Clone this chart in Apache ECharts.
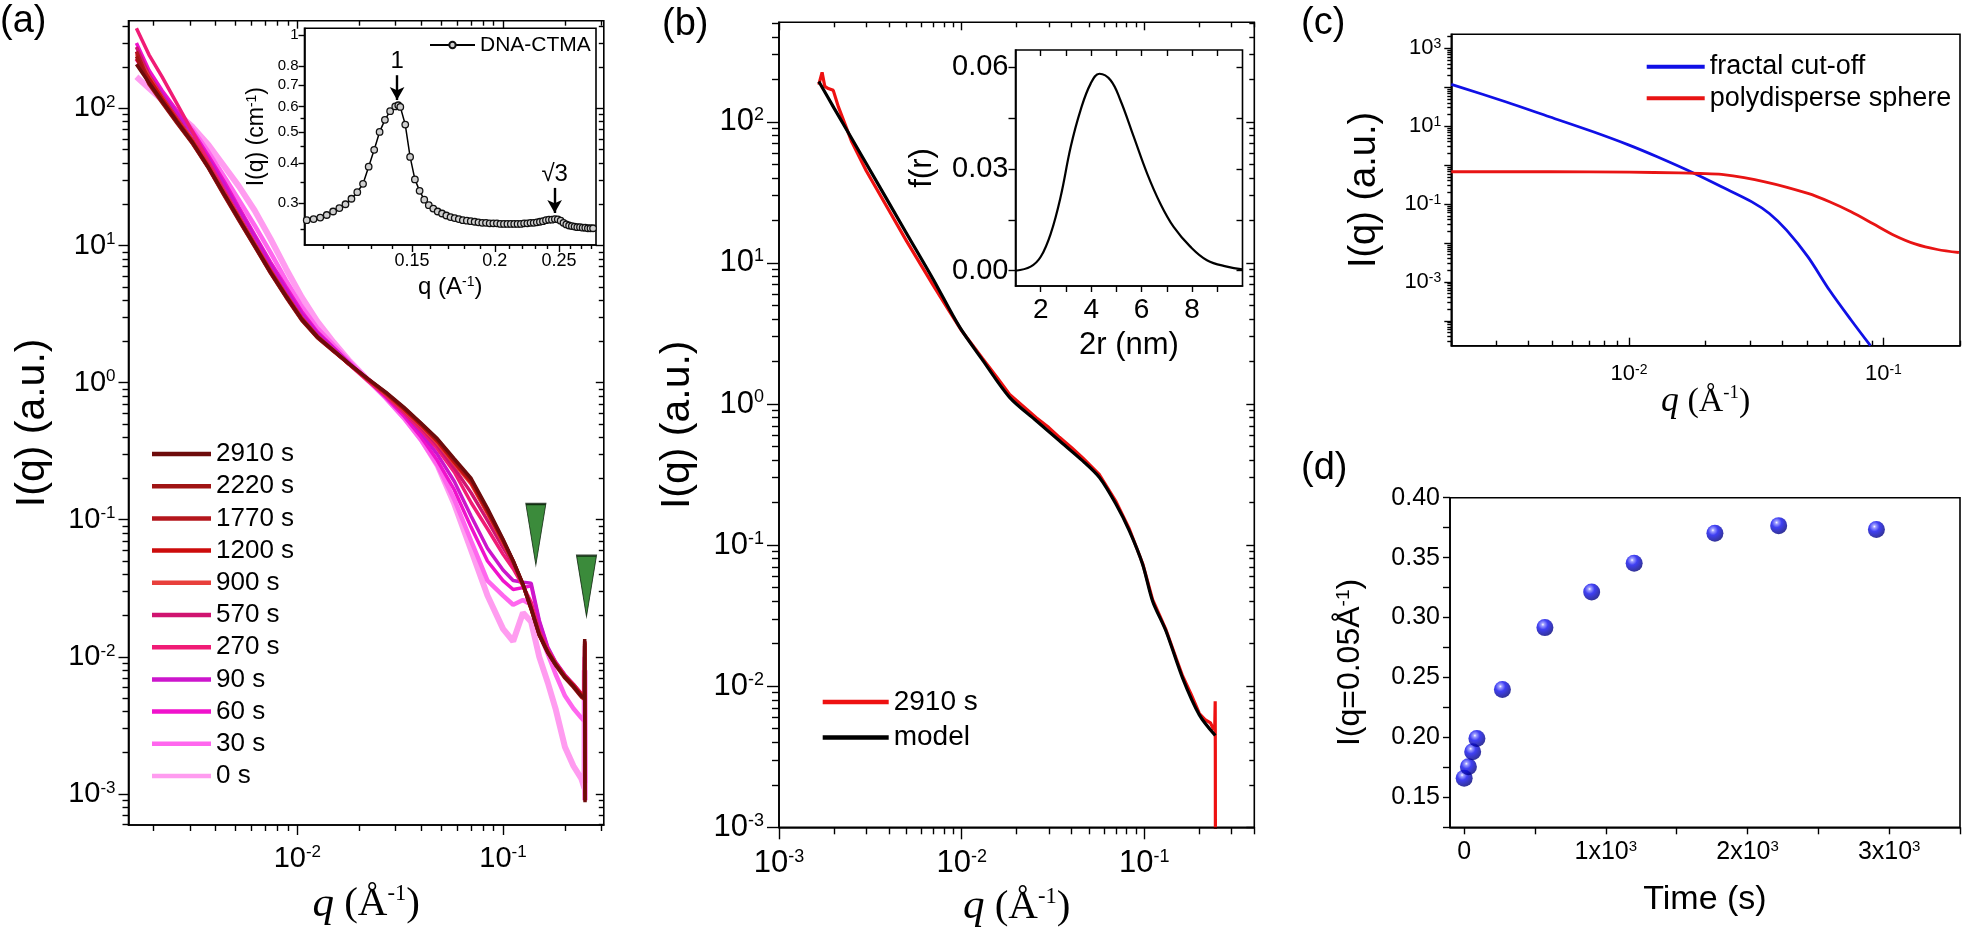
<!DOCTYPE html>
<html>
<head>
<meta charset="utf-8">
<script src="https://cdn.jsdelivr.net/npm/echarts@6.0.0/dist/echarts.min.js"></script>
<style>
html,body{margin:0;padding:0;background:#fff;}
#chart{width:1968px;height:932px;}
</style>
</head>
<body>
<div id="chart"></div>
<script>
// ===================== DATA =====================
// Panel (a): SAXS curves at different times
const qA = [0.00165,0.0019,0.0022,0.0026,0.0031,0.0037,0.0044,0.0052,0.0062,0.0074,0.0088,0.0105,0.0125,0.015,0.018,0.022,0.027,0.033,0.04,0.048,0.058,0.07,0.084,0.1,0.112,0.125,0.137,0.15,0.165,0.18,0.2,0.22,0.24,0.249,0.2495,0.2505];
const I_2910s = [210,154,113,80,56,37,23.8,15.6,10.0,6.4,4.28,2.9,2.16,1.71,1.36,1.07,0.85,0.66,0.506,0.389,0.278,0.2,0.121,0.072,0.0502,0.034,0.0225,0.0145,0.0108,0.0088,0.0071,0.0061,0.0052,0.005,0.0135,0.00087];
const I_2220s = [240,150,110,78,55,36.5,23.2,15.2,9.8,6.3,4.2,2.85,2.13,1.69,1.35,1.06,0.84,0.65,0.5,0.382,0.272,0.195,0.118,0.071,0.0498,0.0335,0.0222,0.0143,0.0107,0.0087,0.007,0.006,0.0051,0.0049,0.013,0.0009];
const I_1770s = [260,158,112,79,55.5,36.8,23.5,15.4,9.9,6.35,4.25,2.88,2.14,1.7,1.35,1.06,0.84,0.65,0.498,0.38,0.27,0.193,0.117,0.071,0.05,0.0338,0.0224,0.0145,0.0108,0.0088,0.0071,0.0061,0.0052,0.005,0.0128,0.0009];
const I_1200s = [230,165,118,82,57,37.5,24,15.8,10.1,6.5,4.33,2.93,2.17,1.71,1.35,1.06,0.83,0.64,0.49,0.372,0.262,0.187,0.114,0.07,0.0495,0.0336,0.0226,0.0146,0.0109,0.0089,0.0072,0.0062,0.0053,0.0051,0.0125,0.001];
const I_900s = [250,170,120,83,58,38,24.3,16,10.2,6.55,4.35,2.94,2.17,1.71,1.35,1.05,0.82,0.63,0.48,0.362,0.255,0.182,0.111,0.068,0.049,0.0334,0.0228,0.0147,0.011,0.0089,0.0072,0.0062,0.0053,0.0051,0.012,0.001];
const I_570s = [280,175,122,85,59,38.5,24.6,16.2,10.3,6.6,4.4,2.97,2.19,1.72,1.35,1.05,0.82,0.62,0.47,0.35,0.238,0.157,0.099,0.063,0.0477,0.0335,0.0232,0.0149,0.0111,0.009,0.0073,0.0063,0.0054,0.0052,0.0125,0.0011];
const I_270s = [384,246,170,108,67,41,25.5,16.4,10.4,6.6,4.4,2.97,2.19,1.72,1.34,1.03,0.8,0.6,0.45,0.33,0.222,0.133,0.086,0.056,0.044,0.033,0.025,0.0155,0.0113,0.0091,0.0073,0.0063,0.0054,0.0052,0.013,0.0011];
const I_90s = [260,175,128,92,65,43,28,18.2,11.6,7.3,4.8,3.18,2.3,1.78,1.38,1.05,0.8,0.6,0.43,0.3,0.19,0.106,0.062,0.043,0.036,0.035,0.0345,0.0185,0.0118,0.0092,0.0074,0.0063,0.0054,0.0052,0.012,0.0012];
const I_60s = [300,190,135,96,68,45,29.5,19,12,7.6,5,3.3,2.35,1.8,1.38,1.04,0.78,0.57,0.4,0.27,0.165,0.088,0.05,0.036,0.031,0.032,0.033,0.018,0.0116,0.0091,0.0073,0.0062,0.0053,0.0051,0.012,0.0012];
const I_30s = [230,165,125,95,70,48,32,21.5,14,8.9,5.6,3.6,2.5,1.88,1.42,1.05,0.77,0.55,0.38,0.25,0.14,0.07,0.036,0.028,0.024,0.026,0.024,0.015,0.0105,0.0075,0.0052,0.0042,0.0036,0.0034,0.01,0.0012];
const I_0s = [170,140,115,92,73,54,38,27,18,11.2,6.8,4.2,2.8,1.97,1.43,1.05,0.78,0.56,0.39,0.25,0.13,0.06,0.028,0.016,0.013,0.021,0.018,0.01,0.0065,0.0042,0.0022,0.0016,0.0013,0.0011,0.008,0.0009];
const aNames = ['2910 s','2220 s','1770 s','1200 s','900 s','570 s','270 s','90 s','60 s','30 s','0 s'];
// green triangle markers (Bragg peak positions)
const triQ = [0.1444, 0.2546];
const triI = [0.078, 0.0328];

// Inset (a): DNA-CTMA
const qIns = [0.104,0.1065,0.109,0.1115,0.114,0.1165,0.119,0.1215,0.124,0.1265,0.129,0.1315,0.134,0.1365,0.139,0.1415,0.143,0.144,0.1465,0.149,0.1515,0.154,0.1565,0.159,0.1615,0.164,0.1665,0.169,0.1715,0.174,0.1765,0.179,0.1815,0.184,0.1865,0.189,0.1915,0.194,0.1965,0.199,0.2015,0.204,0.2065,0.209,0.2115,0.214,0.2165,0.219,0.2215,0.224,0.2265,0.229,0.2315,0.234,0.2365,0.239,0.2415,0.244,0.2465,0.249,0.2515,0.254,0.2565,0.259,0.2615,0.264,0.2665,0.269,0.2715,0.274,0.2765,0.279,0.2815];
const IIns = [0.266,0.268,0.271,0.276,0.283,0.29,0.298,0.31,0.325,0.345,0.39,0.44,0.5,0.545,0.58,0.6,0.605,0.598,0.527,0.418,0.356,0.328,0.308,0.296,0.289,0.283,0.279,0.275,0.272,0.27,0.268,0.266,0.265,0.264,0.263,0.262,0.261,0.261,0.26,0.26,0.26,0.259,0.259,0.259,0.259,0.259,0.259,0.259,0.26,0.26,0.261,0.261,0.262,0.263,0.264,0.266,0.267,0.267,0.268,0.2675,0.265,0.261,0.258,0.256,0.255,0.254,0.253,0.253,0.252,0.252,0.251,0.251,0.251];
const arrowText = ['1', '√3'];
const arrowQ = [0.1424, 0.2463];
const arrowFrom = [0.75, 0.335];
const arrowTo = [0.628, 0.28];

// Panel (b): 2910 s data and model
const qRed = [0.00165,0.00172,0.00178,0.00186,0.00198,0.00211,0.0025,0.003,0.004,0.005,0.006,0.007,0.0085,0.01,0.0115,0.013,0.0155,0.0183,0.022,0.0256,0.03,0.0343,0.04,0.046,0.0568,0.07,0.0828,0.0979,0.111,0.1315,0.15,0.162,0.18,0.2,0.215,0.23,0.24,0.243,0.2443,0.2447,0.245];
const IRed = [183,224,178,172,167,128,72,45,23.5,14.2,9.6,6.9,4.6,3.3,2.6,2.1,1.56,1.17,0.95,0.8,0.68,0.58,0.49,0.415,0.315,0.203,0.13,0.074,0.041,0.025,0.0155,0.0118,0.0088,0.0064,0.0058,0.0055,0.0049,0.0052,0.0078,0.0035,0.0006];
const qModel = [0.00165,0.002,0.003,0.005,0.007,0.00975,0.01307,0.01829,0.0256,0.0343,0.046,0.0568,0.070,0.0828,0.0979,0.111,0.1315,0.162,0.2,0.2445];
const IModel = [193,125,50.6,16.1,7.6,3.5,2.03,1.114,0.761,0.548,0.395,0.301,0.1945,0.126,0.0729,0.04,0.0245,0.0114,0.00626,0.00447];

// Inset (b): size distribution
const dB = [1.0,1.6,2.0,2.4,2.79,3.19,3.58,3.98,4.33,4.77,5.16,5.69,6.22,6.74,7.27,7.93,8.59,9.38,10];
const fB = [0.0,0.0012,0.0041,0.011,0.0218,0.0365,0.0473,0.0551,0.058,0.0561,0.0502,0.0394,0.0286,0.0198,0.0129,0.0071,0.0031,0.0012,0.0004];

// Panel (c): model components
const qFrac = [0.002,0.00329,0.00486,0.00718,0.01,0.0129,0.018,0.0231,0.0304,0.0356,0.0416,0.0505,0.0614,0.0746,0.0889];
const IFrac = [119,42,17.5,7.3,3.27,1.64,0.62,0.278,0.114,0.0573,0.0214,0.0044,0.00061,0.000105,0.000023];
const qSph = [0.002,0.00486,0.01,0.0157,0.019,0.0231,0.0342,0.0505,0.0614,0.0746,0.0907,0.110,0.134,0.163,0.198];
const ISph = [0.676,0.676,0.66,0.63,0.61,0.577,0.373,0.1875,0.1143,0.0632,0.0317,0.0159,0.00933,0.00681,0.0057];

// Panel (d): intensity at q = 0.05 vs time
const times = [0,30,60,90,270,570,900,1200,1770,2220,2910];
const Iq05 = [0.166,0.1755,0.188,0.199,0.240,0.2916,0.3213,0.3454,0.3703,0.3767,0.3734];

// Tick values / labels
const aXMajor = [0.01, 0.1];
const aYMajor = [0.001, 0.01, 0.1, 1, 10, 100];
const insAXLabels = [0.15, 0.2, 0.25];
const insAXMinor = [0.11,0.12,0.13,0.14,0.16,0.17,0.18,0.19,0.21,0.22,0.23,0.24,0.26,0.27,0.28];
const insAYLabels = [0.3,0.4,0.5,0.6,0.7,0.8,0.9,1];
const insAYMinor = [0.25,0.35,0.45,0.55];
const bXMajor = [0.001, 0.01, 0.1];
const bYMajor = [0.001, 0.01, 0.1, 1, 10, 100];
const insBXTicks = [2,3,4,5,6,7,8,9];
const insBXLabels = [2,4,6,8];
const insBYTicks = [0,0.015,0.03,0.045,0.06];
const insBYLabels = [0,0.03,0.06];
const cXMajor = [0.01, 0.1];
const cYMajor = [0.0001,0.001,0.01,0.1,1,10,100,1000];
const cYLabels = [0.001,0.1,10,1000];
const dXTicks = [0,500,1000,1500,2000,2500,3000,3500];
const dXLabels = [0,1000,2000,3000];
const dYTicks = [0.125,0.15,0.175,0.2,0.225,0.25,0.275,0.3,0.325,0.35,0.375,0.4];
const dYLabels = [0.15,0.2,0.25,0.3,0.35,0.4];

// ===================== STYLE / HELPERS =====================
const FONT = "'Liberation Sans', Arial, Helvetica, sans-serif";
const SERIF = "'Liberation Serif', 'Times New Roman', serif";
const K = '#000';
const aColors = ['#6e0b0b','#a01414','#b4161c','#cc0c0c','#e8403c','#d01470','#f01c76','#cc16cc','#f012cc','#ff66ee','#ff9cf0'];
const aWidths = [3.5,3.5,3.5,3.5,3.5,3.5,3.5,3.5,3.5,4.5,6];
const aValues = [I_2910s,I_2220s,I_1770s,I_1200s,I_900s,I_570s,I_270s,I_90s,I_60s,I_30s,I_0s];

const pts = (xs, ys) => xs.map((x, i) => [x, ys[i]]);
function minorLog(lo, hi) {
  const out = [];
  for (let e = -6; e <= 4; e++) for (let m = 2; m <= 9; m++) {
    const v = Number(m + 'e' + e);
    if (v >= lo && v <= hi) out.push(v);
  }
  return out;
}
const pow10 = v => '10{s|' + Math.round(Math.log10(v)) + '}';
const supRich = fs => ({ s: { fontSize: fs, verticalAlign: 'top', fontFamily: FONT, color: K } });
const qTitle = (fs) => ({
  name: '{i|q} {n|(Å}{s|-1}{n|)}',
  ns: { fontFamily: SERIF, fontSize: fs, color: K, rich: {
    i: { fontFamily: SERIF, fontStyle: 'italic', fontSize: fs * 1.05, color: K },
    n: { fontFamily: SERIF, fontSize: fs, color: K },
    s: { fontFamily: SERIF, fontSize: fs * 0.55, verticalAlign: 'top', color: K } } }
});

function mkAxis(o) {
  const a = {
    type: o.type || 'log', gridIndex: o.grid, min: o.min, max: o.max, position: o.pos,
    axisLine: { show: !!o.line, onZero: false, lineStyle: { color: K, width: 1.6 } },
    axisTick: { show: true, inside: !!o.inside, length: o.len, customValues: o.ticks, lineStyle: { color: K, width: 1.4 } },
    axisLabel: { show: false },
    splitLine: { show: false }, minorTick: { show: false }, minorSplitLine: { show: false },
    axisPointer: { show: false }, silent: true, z: 3
  };
  if (a.type === 'log') a.logBase = 10;
  if (o.labels) a.axisLabel = { show: true, customValues: o.labels, formatter: o.fmt, color: K, fontSize: o.fs,
    fontFamily: FONT, margin: o.margin, rich: o.rich || {}, hideOverlap: false, showMinLabel: true, showMaxLabel: true };
  if (o.name) Object.assign(a, { name: o.name, nameLocation: 'middle', nameGap: o.gap, nameMoveOverlap: false, nameTextStyle: o.ns });
  return a;
}

// ===================== GRIDS =====================
const gridBase = { show: true, borderColor: K, borderWidth: 1.6, backgroundColor: 'transparent', containLabel: false, outerBoundsMode: 'none' };
const grids = [
  Object.assign({}, gridBase, { left: 128.5, top: 20.7, width: 475.3, height: 804.3 }),   // 0 (a)
  Object.assign({}, gridBase, { left: 304.5, top: 28.3, width: 291.5, height: 216.7, backgroundColor: '#fff' }), // 1 inset a
  Object.assign({}, gridBase, { left: 779, top: 22.3, width: 475.3, height: 805 }),       // 2 (b)
  Object.assign({}, gridBase, { left: 1015.5, top: 50, width: 227, height: 236, backgroundColor: '#fff' }), // 3 inset b
  Object.assign({}, gridBase, { left: 1451.3, top: 34.3, width: 508.7, height: 311.4 }),  // 4 (c)
  Object.assign({}, gridBase, { left: 1450, top: 497.7, width: 510, height: 329.6 })      // 5 (d)
];

// ranges
const aX = [0.00151, 0.309], aY = [0.000594, 436];
const iaX = [0.1032, 0.2844], iaY = [0.2227, 1.049];
const bX = [0.000999, 0.4], bY = [0.000999, 507];
const ibX = [1, 10], ibY = [-0.0045, 0.065];
const cX = [0.002, 0.2], cY = [0.000023, 2300];
const dX = [-100, 3500], dY = [0.125, 0.40];

const xAxes = [], yAxes = [];
const addX = o => (xAxes.push(mkAxis(o)), xAxes.length - 1);
const addY = o => (yAxes.push(mkAxis(o)), yAxes.length - 1);

// (a)
const axA = addX(Object.assign({ grid: 0, min: aX[0], max: aX[1], pos: 'bottom', line: true, len: 10, ticks: aXMajor,
  labels: aXMajor, fmt: pow10, fs: 29, margin: 19, rich: supRich(17), gap: 58 }, qTitle(41)));
addX({ grid: 0, min: aX[0], max: aX[1], pos: 'bottom', len: 6, ticks: minorLog(aX[0], aX[1]) });
addX({ grid: 0, min: aX[0], max: aX[1], pos: 'top', inside: true, len: 8, ticks: aXMajor });
addX({ grid: 0, min: aX[0], max: aX[1], pos: 'top', inside: true, len: 5, ticks: minorLog(aX[0], aX[1]) });
const ayA = addY({ grid: 0, min: aY[0], max: aY[1], pos: 'left', line: true, len: 10, ticks: aYMajor,
  labels: aYMajor, fmt: pow10, fs: 29, margin: 13, rich: supRich(17),
  name: 'I(q) (a.u.)', gap: 75, ns: { fontSize: 41, fontFamily: FONT, color: K } });
addY({ grid: 0, min: aY[0], max: aY[1], pos: 'left', len: 6, ticks: minorLog(aY[0], aY[1]) });
addY({ grid: 0, min: aY[0], max: aY[1], pos: 'right', inside: true, len: 8, ticks: aYMajor });
addY({ grid: 0, min: aY[0], max: aY[1], pos: 'right', inside: true, len: 5, ticks: minorLog(aY[0], aY[1]) });

// inset (a)
const axIA = addX({ grid: 1, min: iaX[0], max: iaX[1], pos: 'bottom', line: true, len: 7, ticks: insAXLabels,
  labels: insAXLabels, fmt: v => String(v), fs: 18, margin: 7,
  name: 'q (A{s|-1})', gap: 30, ns: { fontSize: 24, fontFamily: FONT, color: K, rich: supRich(14) } });
addX({ grid: 1, min: iaX[0], max: iaX[1], pos: 'bottom', len: 4, ticks: insAXMinor });
const ayIA = addY({ grid: 1, min: iaY[0], max: iaY[1], pos: 'left', line: true, len: 6, ticks: insAYLabels,
  labels: insAYLabels, fmt: v => String(v), fs: 15, margin: 6,
  name: 'I(q) (cm{s|-1})', gap: 36, ns: { fontSize: 23, fontFamily: FONT, color: K, rich: supRich(14) } });
addY({ grid: 1, min: iaY[0], max: iaY[1], pos: 'left', len: 4, ticks: insAYMinor });

// (b)
const axB = addX(Object.assign({ grid: 2, min: bX[0], max: bX[1], pos: 'bottom', line: true, len: 12, ticks: bXMajor,
  labels: bXMajor, fmt: pow10, fs: 31, margin: 21, rich: supRich(18), gap: 58 }, qTitle(41)));
addX({ grid: 2, min: bX[0], max: bX[1], pos: 'bottom', len: 7, ticks: minorLog(bX[0], bX[1]) });
addX({ grid: 2, min: bX[0], max: bX[1], pos: 'top', inside: true, len: 8, ticks: bXMajor });
addX({ grid: 2, min: bX[0], max: bX[1], pos: 'top', inside: true, len: 5, ticks: minorLog(bX[0], bX[1]) });
const ayB = addY({ grid: 2, min: bY[0], max: bY[1], pos: 'left', line: true, len: 12, ticks: bYMajor,
  labels: bYMajor, fmt: pow10, fs: 31, margin: 15, rich: supRich(18),
  name: 'I(q) (a.u.)', gap: 81, ns: { fontSize: 41, fontFamily: FONT, color: K } });
addY({ grid: 2, min: bY[0], max: bY[1], pos: 'left', len: 7, ticks: minorLog(bY[0], bY[1]) });
addY({ grid: 2, min: bY[0], max: bY[1], pos: 'right', inside: true, len: 8, ticks: bYMajor });
addY({ grid: 2, min: bY[0], max: bY[1], pos: 'right', inside: true, len: 5, ticks: minorLog(bY[0], bY[1]) });

// inset (b)
const axIB = addX({ type: 'value', grid: 3, min: ibX[0], max: ibX[1], pos: 'bottom', line: true, len: 6, ticks: insBXTicks,
  labels: insBXLabels, fmt: v => String(v), fs: 28, margin: 10,
  name: '2r (nm)', gap: 44, ns: { fontSize: 31, fontFamily: FONT, color: K } });
addX({ type: 'value', grid: 3, min: ibX[0], max: ibX[1], pos: 'top', inside: true, len: 6, ticks: insBXTicks });
const ayIB = addY({ type: 'value', grid: 3, min: ibY[0], max: ibY[1], pos: 'left', line: true, len: 7, ticks: insBYTicks,
  labels: insBYLabels, fmt: v => v.toFixed(2), fs: 29, margin: 7,
  name: 'f(r)', gap: 78, ns: { fontSize: 31, fontFamily: FONT, color: K } });
addY({ type: 'value', grid: 3, min: ibY[0], max: ibY[1], pos: 'right', inside: true, len: 6, ticks: insBYTicks });

// (c)
const axC = addX(Object.assign({ grid: 4, min: cX[0], max: cX[1], pos: 'bottom', line: true, inside: true, len: 8, ticks: cXMajor,
  labels: cXMajor, fmt: pow10, fs: 22, margin: 17, rich: supRich(14), gap: 38 }, qTitle(34)));
addX({ grid: 4, min: cX[0], max: cX[1], pos: 'bottom', inside: true, len: 5, ticks: minorLog(cX[0], cX[1]) });
const ayC = addY({ grid: 4, min: cY[0], max: cY[1], pos: 'left', line: true, len: 7, ticks: cYMajor,
  labels: cYLabels, fmt: pow10, fs: 22, margin: 10, rich: supRich(14),
  name: 'I(q) (a.u.)', gap: 68, ns: { fontSize: 38, fontFamily: FONT, color: K } });
addY({ grid: 4, min: cY[0], max: cY[1], pos: 'left', len: 4, ticks: minorLog(cY[0], cY[1]) });

// (d)
const axD = addX({ type: 'value', grid: 5, min: dX[0], max: dX[1], pos: 'bottom', line: true, len: 7, ticks: dXTicks,
  labels: dXLabels, fmt: v => (v === 0 ? '0' : (v / 1000) + 'x10{s|3}'), fs: 25, margin: 12, rich: supRich(15),
  name: 'Time (s)', gap: 55, ns: { fontSize: 34, fontFamily: FONT, color: K } });
const ayD = addY({ type: 'value', grid: 5, min: dY[0], max: dY[1], pos: 'left', line: true, len: 7, ticks: dYTicks,
  labels: dYLabels, fmt: v => v.toFixed(2), fs: 25, margin: 10,
  name: 'I(q=0.05Å{s|-1})', gap: 84, ns: { fontSize: 32, fontFamily: FONT, color: K, rich: supRich(19) } });

// ===================== SERIES =====================
const series = [];
for (let i = aNames.length - 1; i >= 0; i--) {
  series.push({ type: 'line', name: aNames[i], xAxisIndex: axA, yAxisIndex: ayA, data: pts(qA, aValues[i]),
    symbol: 'none', lineStyle: { color: aColors[i], width: aWidths[i] }, itemStyle: { color: aColors[i] },
    silent: true, z: 2 });
}
series.push({ type: 'scatter', name: 'peaks', xAxisIndex: axA, yAxisIndex: ayA, data: pts(triQ, triI),
  symbol: 'triangle', symbolRotate: 180, symbolSize: [20, 61],
  itemStyle: { color: '#0a6e0a', borderColor: '#061a06', borderWidth: 1.4 }, silent: true, z: 4 });

series.push({ type: 'line', name: 'DNA-CTMA', xAxisIndex: axIA, yAxisIndex: ayIA, data: pts(qIns, IIns),
  symbol: 'circle', symbolSize: 6.5, showSymbol: true, lineStyle: { color: K, width: 1.5 },
  itemStyle: { color: '#cfcfcf', borderColor: '#111', borderWidth: 1.3 }, silent: true, z: 5,
  markLine: { silent: true, symbol: ['none', 'arrow'], symbolSize: [11, 13], animation: false,
    lineStyle: { color: K, width: 2.4, type: 'solid' },
    label: { show: true, position: 'start', formatter: '{b}', fontSize: 24, color: K, fontFamily: FONT, distance: 2 },
    data: arrowQ.map((q, i) => [{ name: arrowText[i], coord: [q, arrowFrom[i]] }, { coord: [q, arrowTo[i]] }]) } });

series.push({ type: 'line', name: '2910 s ', xAxisIndex: axB, yAxisIndex: ayB, data: pts(qRed, IRed),
  symbol: 'none', lineStyle: { color: '#ee1111', width: 3.2 }, itemStyle: { color: '#ee1111' }, silent: true, z: 2 });
series.push({ type: 'line', name: 'model', xAxisIndex: axB, yAxisIndex: ayB, data: pts(qModel, IModel),
  symbol: 'none', smooth: 0.3, lineStyle: { color: K, width: 3.2 }, itemStyle: { color: K }, silent: true, z: 3 });

series.push({ type: 'line', name: 'f(r)', xAxisIndex: axIB, yAxisIndex: ayIB, data: pts(dB, fB),
  symbol: 'none', smooth: 0.4, lineStyle: { color: K, width: 2.2 }, itemStyle: { color: K }, silent: true, z: 5 });

series.push({ type: 'line', name: 'fractal cut-off', xAxisIndex: axC, yAxisIndex: ayC, data: pts(qFrac, IFrac),
  symbol: 'none', smooth: 0.3, lineStyle: { color: '#1010e6', width: 2.8 }, itemStyle: { color: '#1010e6' }, silent: true });
series.push({ type: 'line', name: 'polydisperse sphere', xAxisIndex: axC, yAxisIndex: ayC, data: pts(qSph, ISph),
  symbol: 'none', smooth: 0.3, lineStyle: { color: '#e81414', width: 2.8 }, itemStyle: { color: '#e81414' }, silent: true });

series.push({ type: 'scatter', name: 'I(q=0.05)', xAxisIndex: axD, yAxisIndex: ayD, data: pts(times, Iq05),
  symbol: 'circle', symbolSize: 17, silent: true,
  itemStyle: { color: { type: 'radial', x: 0.38, y: 0.32, r: 0.7, colorStops: [
    { offset: 0, color: '#ffffff' }, { offset: 0.13, color: '#8888ff' }, { offset: 0.42, color: '#1010f0' }, { offset: 1, color: '#00007a' } ] } } });

// ===================== LEGENDS =====================
const legText = fs => ({ fontSize: fs, lineHeight: fs, color: K, fontFamily: FONT });
const legends = [
  { data: aNames, orient: 'vertical', left: 152, top: 441, padding: 0, itemWidth: 59, itemHeight: 4.5, itemGap: 6.2,
    icon: 'rect', textStyle: legText(26), selectedMode: false },
  { data: ['DNA-CTMA'], left: 429, top: 34.5, padding: 0, itemWidth: 45, itemHeight: 8, textStyle: legText(21), selectedMode: false },
  { data: ['2910 s ', 'model'], orient: 'vertical', left: 822.7, top: 688, padding: 0, itemWidth: 66, itemHeight: 4.5, itemGap: 7.4,
    icon: 'rect', textStyle: legText(28), selectedMode: false },
  { data: ['fractal cut-off', 'polydisperse sphere'], orient: 'vertical', left: 1646.7, top: 53.2, padding: 0, itemWidth: 58,
    itemHeight: 4, itemGap: 4.6, icon: 'rect', textStyle: legText(27), selectedMode: false }
];

const panelFont = '38px ' + FONT;
const option = {
  animation: false,
  backgroundColor: '#fff',
  textStyle: { fontFamily: FONT },
  grid: grids,
  xAxis: xAxes,
  yAxis: yAxes,
  legend: legends,
  series: series,
  graphic: [
    { type: 'text', left: 0, top: 3, style: { text: '(a)', font: panelFont, fill: K } },
    { type: 'text', left: 662, top: 6, style: { text: '(b)', font: panelFont, fill: K } },
    { type: 'text', left: 1301, top: 5, style: { text: '(c)', font: panelFont, fill: K } },
    { type: 'text', left: 1301, top: 450, style: { text: '(d)', font: panelFont, fill: K } }
  ]
};

const chart = echarts.init(document.getElementById('chart'), null, { renderer: 'canvas' });
chart.setOption(option);
</script>
</body>
</html>
